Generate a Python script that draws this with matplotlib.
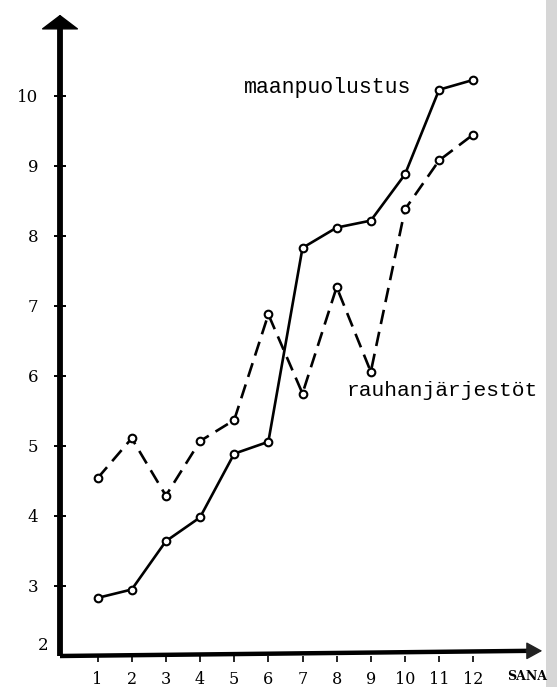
import matplotlib
matplotlib.use("Agg")
import matplotlib.pyplot as plt
from matplotlib.patches import Rectangle

# data
sana = [1, 2, 3, 4, 5, 6, 7, 8, 9, 10, 11, 12]
maanpuolustus = [2.83, 2.95, 3.64, 3.98, 4.89, 5.06, 7.83, 8.12, 8.22, 8.88, 10.09, 10.23]
rauhanjarjestot = [4.54, 5.11, 4.29, 5.07, 5.37, 6.88, 5.75, 7.27, 6.06, 8.38, 9.08, 9.45]
yticks = [2, 3, 4, 5, 6, 7, 8, 9, 10]

W, H = 557, 687
fig = plt.figure(figsize=(W / 100, H / 100), dpi=100)
fig.patch.set_facecolor("white")

# scan edge strip on the right
fig.patches.append(Rectangle((546 / W, 0), 1 - 546 / W, 1, transform=fig.transFigure,
                             facecolor="#d6d6d6", edgecolor="none", zorder=-5))

left, right, bottom, top = 60, 545, 656, 12
ax = fig.add_axes([left / W, (H - bottom) / H, (right - left) / W, (bottom - top) / H])
ax.set_zorder(2)
ax.set_facecolor("none")
ax.set_xlim(-0.1, 14.1)
ax.set_ylim(2, 11.2)

for s in ax.spines.values():
    s.set_visible(False)

# axis lines with arrows
ax.plot([0, 0], [0, 0.975], transform=ax.transAxes, color="black", lw=4.2,
        solid_capstyle="butt", clip_on=False, zorder=3)
ax.annotate("", xy=(0, 1.0), xytext=(0, 0.968), xycoords="axes fraction",
            arrowprops=dict(arrowstyle="-|>,head_length=0.95,head_width=1.25",
                            color="black", lw=1), annotation_clip=False)
ax.plot([0, 0.965], [0, 0.008], transform=ax.transAxes, color="black", lw=3.2,
        solid_capstyle="butt", clip_on=False, zorder=3)
ax.annotate("", xy=(1.0, 0.008), xytext=(0.955, 0.008), xycoords="axes fraction",
            arrowprops=dict(arrowstyle="-|>,head_length=1.0,head_width=0.55",
                            color="#222222", lw=1), annotation_clip=False)

# data lines
ax.plot(sana, maanpuolustus, color="black", lw=1.9, marker="o", markersize=5.5,
        markerfacecolor="white", markeredgecolor="black", markeredgewidth=1.5, zorder=4)
ax.plot(sana, rauhanjarjestot, color="black", lw=1.9, dashes=(5.5, 3), marker="o",
        markersize=5.5, markerfacecolor="white", markeredgecolor="black",
        markeredgewidth=1.5, zorder=4)

# ticks
ax.set_yticks(yticks[1:])
ax.set_yticklabels([str(v) for v in yticks[1:]])
ax.set_xticks(sana)
ax.set_xticklabels([str(v) for v in sana])
ax.tick_params(axis="y", direction="inout", length=9, width=1.4, pad=11,
               labelsize=12)
ax.tick_params(axis="x", direction="out", length=4.5, width=1.2, pad=6,
               labelsize=11.5)
for lab in ax.get_xticklabels() + ax.get_yticklabels():
    lab.set_fontfamily("DejaVu Serif")
ax.text(-0.023, 2.15, "2", transform=ax.get_yaxis_transform(), ha="right", va="center",
        fontsize=12, family="DejaVu Serif")

# labels
ax.text(5.3, 10.12, "maanpuolustus", fontsize=15.5, family="Liberation Mono",
        ha="left", va="center")
ax.text(8.3, 5.8, "rauhanjärjestöt", fontsize=15.3, family="Liberation Mono",
        ha="left", va="center")
ax.text(13.57, 1.7, "SANA", fontsize=9, family="DejaVu Serif", weight="bold",
        ha="center", va="center", clip_on=False, zorder=6)

fig.savefig("out.png", dpi=100, facecolor="white")
